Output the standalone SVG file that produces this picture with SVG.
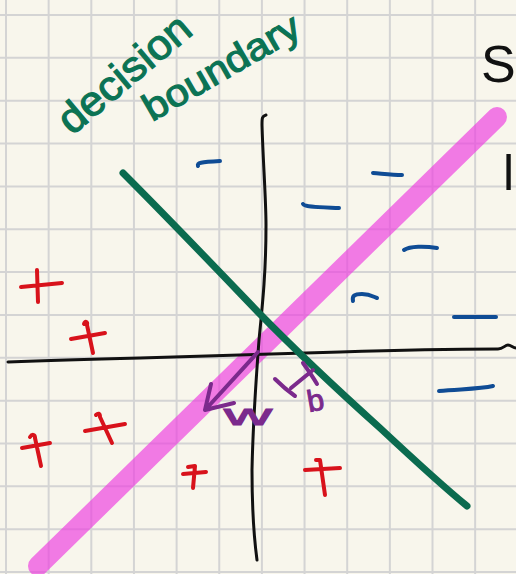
<svg xmlns="http://www.w3.org/2000/svg" width="516" height="574" viewBox="0 0 516 574">
<style>
.grid{stroke:#d4d4d4;stroke-width:2;fill:none}
.ax{stroke:#111;stroke-width:3;fill:none;stroke-linecap:round;stroke-linejoin:round}
.minus{stroke:#0f4c95;stroke-width:4;fill:none;stroke-linecap:round;stroke-linejoin:round}
.plus{stroke:#d8121b;stroke-width:4;fill:none;stroke-linecap:round;stroke-linejoin:round}
.pur{stroke:#7b2a8c;stroke-width:4;fill:none;stroke-linecap:round;stroke-linejoin:round}
.hand{font-family:"Liberation Sans","DejaVu Sans",sans-serif}
.green{fill:#0b7354;stroke:#0b7354;stroke-width:1.2}
</style>
<rect width="516" height="574" fill="#f8f6ec"/>
<g id="grid" class="grid">
<path d="M6,0V574M48.65,0V574M91.3,0V574M133.95,0V574M176.6,0V574M219.25,0V574M261.9,0V574M304.55,0V574M347.2,0V574M389.85,0V574M432.5,0V574M475.15,0V574"/>
<path d="M0,15H516M0,57.85H516M0,100.7H516M0,143.55H516M0,186.4H516M0,229.25H516M0,272.1H516M0,314.95H516M0,357.8H516M0,400.65H516M0,443.5H516M0,486.35H516M0,529.2H516M0,572.05H516"/>
</g>
<g id="connectors">
<path id="hyperplane" d="M38,566L497,117" stroke="#ee3fe0" stroke-opacity="0.68" stroke-width="20" stroke-linecap="round" fill="none"/>
<path id="x-axis" class="ax" d="M8,362C60,360 100,359 140,358C220,356 300,353 340,352C400,350 460,349 498,349C503,349 505,345 508,345C511,345 513,348 516,348"/>
<path id="y-axis" class="ax" d="M266,115C262,116 262,118 262,125C263,160 266,200 266,225C266,270 263,300 259,340C256,380 253,420 252,470C252,500 253,530 257,560"/>
<path id="boundary" d="M123,173C170,220 210,262 258,312C300,355 340,392 380,428C410,456 440,484 467,506" stroke="#0b6b4f" stroke-width="7" stroke-linecap="round" fill="none"/>
<path id="w-arrow" class="pur" d="M258,352L206,409M211,384L205,410L234,403"/>
<path id="b-mark" class="pur" d="M275,379C280,384 288,391 295,396M291,388L313,370M303,363C308,370 313,377 317,384"/>
</g>
<g id="labels">
<text class="hand green" x="72" y="136" font-size="42" textLength="160" lengthAdjust="spacingAndGlyphs" transform="rotate(-40 72 136)">decision</text>
<text class="hand green" x="152" y="122" font-size="38" textLength="175" lengthAdjust="spacingAndGlyphs" transform="rotate(-30 152 122)">boundary</text>
<text class="hand" x="224" y="425" font-size="30" fill="#7b2a8c" stroke="#7b2a8c" stroke-width="1" textLength="48" lengthAdjust="spacingAndGlyphs">w</text>
<text class="hand" x="309" y="412" font-size="30" fill="#7b2a8c" stroke="#7b2a8c" stroke-width="1" transform="rotate(-10 309 412)">b</text>
<text class="hand" x="481" y="82" font-size="52" fill="#111">S</text>
<text class="hand" x="503" y="190" font-size="50" fill="#111">l</text>
</g>
<g id="negatives" class="minus">
<path d="M198,166C197,163 200,162 220,161"/>
<path d="M373,173C385,174 393,175 402,175"/>
<path d="M303,204C305,207 315,207 339,208"/>
<path d="M404,250C410,246 425,246 437,248"/>
<path d="M353,301C352,296 354,294 362,294C370,294 374,297 377,298"/>
<path d="M454,317L496,317"/>
<path d="M439,391C460,389 480,389 493,386"/>
</g>
<g id="positives" class="plus">
<path d="M37,270L38,302M21,287L62,283"/>
<path d="M84,324C85,321 88,321 87,325L93,353M71,339L105,333"/>
<path d="M22,448L50,443M30,437C32,434 35,434 35,438L41,466"/>
<path d="M85,431L125,424M96,415C98,413 100,413 100,417L112,443"/>
<path d="M183,474L206,472M188,467L195,466L193,488"/>
<path d="M305,470L340,468M316,460L320,460L325,495"/>
</g>
</svg>
